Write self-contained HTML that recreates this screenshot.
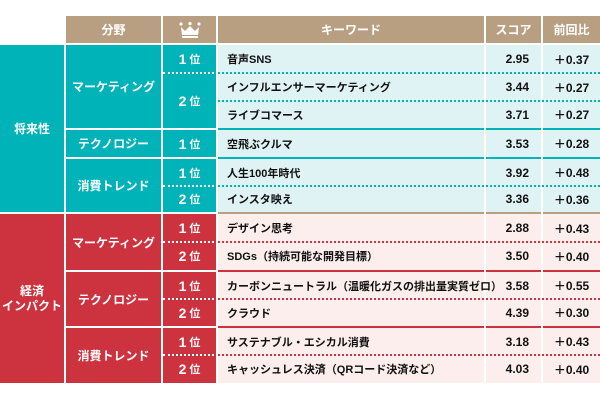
<!DOCTYPE html>
<html><head><meta charset="utf-8"><style>
*{margin:0;padding:0;box-sizing:border-box}
body{width:600px;height:400px;background:#fff;position:relative;overflow:hidden;font-family:"Liberation Sans","Noto Sans CJK JP",sans-serif;font-weight:bold}
.a{position:absolute;display:flex;align-items:center}
.c{justify-content:center;text-align:center}
.h{background:#b99f82;color:#fff;font-size:12px}
.t{background:#00b3b9;color:#fff;font-size:12px}
.r{background:#cd333e;color:#fff;font-size:12px}
.lt{background:#e0f3f4}
.lr{background:#fbeeed}
.k{font-size:11px;color:#111;padding-left:9px}
.s{font-size:12px;color:#111;justify-content:flex-end;padding-right:12px}
.p{font-size:12px;color:#111}
.d{position:absolute;height:0;border-top:2px dotted}
.rk{font-size:11px}.rk b{font-size:14px;margin-right:3px}
</style></head><body>
<div class="a c h" style="left:66px;top:16px;width:95px;height:27px">分野</div>
<div class="a c h" style="left:163px;top:16px;width:53px;height:27px"><svg width="22" height="16" viewBox="0 0 22 16"><circle cx="2" cy="2" r="1.6" fill="#fff"/><circle cx="11" cy="1.6" r="1.6" fill="#fff"/><circle cx="20" cy="2" r="1.6" fill="#fff"/><path d="M2 5 L6 9 L11 4 L16 9 L20 5 L19 13 L3 13Z" fill="#fff"/><rect x="3" y="14" width="16" height="2" fill="#fff"/></svg></div>
<div class="a c h" style="left:218px;top:16px;width:266px;height:27px">キーワード</div>
<div class="a c h" style="left:486px;top:16px;width:55px;height:27px">スコア</div>
<div class="a c h" style="left:543px;top:16px;width:57px;height:27px">前回比</div>

<div class="a c t" style="left:0;top:45px;width:64px;height:167px">将来性</div>
<div class="a c r" style="left:0;top:214px;width:64px;height:169px;line-height:1.25">経済<br>インパクト</div>

<div class="a c t" style="left:66px;top:45px;width:95px;height:83px">マーケティング</div>
<div class="a c t" style="left:66px;top:130px;width:95px;height:27px">テクノロジー</div>
<div class="a c t" style="left:66px;top:159px;width:95px;height:53px">消費トレンド</div>
<div class="a c r" style="left:66px;top:214px;width:95px;height:56px">マーケティング</div>
<div class="a c r" style="left:66px;top:272px;width:95px;height:54px">テクノロジー</div>
<div class="a c r" style="left:66px;top:328px;width:95px;height:55px">消費トレンド</div>

<div class="t" style="position:absolute;left:163px;top:45px;width:53px;height:83px"></div>
<div class="t" style="position:absolute;left:163px;top:130px;width:53px;height:27px"></div>
<div class="t" style="position:absolute;left:163px;top:159px;width:53px;height:53px"></div>
<div class="r" style="position:absolute;left:163px;top:214px;width:53px;height:56px"></div>
<div class="r" style="position:absolute;left:163px;top:272px;width:53px;height:54px"></div>
<div class="r" style="position:absolute;left:163px;top:328px;width:53px;height:55px"></div>
<div class="a c rk" style="left:163px;top:45px;width:53px;height:28px;color:#fff"><b>1</b>位</div>
<div class="a c rk" style="left:163px;top:73px;width:53px;height:55px;color:#fff"><b>2</b>位</div>
<div class="a c rk" style="left:163px;top:130px;width:53px;height:27px;color:#fff"><b>1</b>位</div>
<div class="a c rk" style="left:163px;top:159px;width:53px;height:27px;color:#fff"><b>1</b>位</div>
<div class="a c rk" style="left:163px;top:186px;width:53px;height:26px;color:#fff"><b>2</b>位</div>
<div class="a c rk" style="left:163px;top:214px;width:53px;height:28px;color:#fff"><b>1</b>位</div>
<div class="a c rk" style="left:163px;top:242px;width:53px;height:28px;color:#fff"><b>2</b>位</div>
<div class="a c rk" style="left:163px;top:272px;width:53px;height:27px;color:#fff"><b>1</b>位</div>
<div class="a c rk" style="left:163px;top:299px;width:53px;height:27px;color:#fff"><b>2</b>位</div>
<div class="a c rk" style="left:163px;top:328px;width:53px;height:27px;color:#fff"><b>1</b>位</div>
<div class="a c rk" style="left:163px;top:355px;width:53px;height:28px;color:#fff"><b>2</b>位</div>

<div class="lt" style="position:absolute;left:218px;top:45px;width:382px;height:167px"></div>
<div class="lr" style="position:absolute;left:218px;top:214px;width:382px;height:169px"></div>
<div style="position:absolute;left:218px;top:212px;width:382px;height:2px;background:#b99f82"></div>
<div style="position:absolute;left:218px;top:128px;width:382px;height:2px;background:#00b3b9"></div>
<div style="position:absolute;left:218px;top:157px;width:382px;height:2px;background:#00b3b9"></div>
<div style="position:absolute;left:218px;top:270px;width:382px;height:2px;background:#cd333e"></div>
<div style="position:absolute;left:218px;top:326px;width:382px;height:2px;background:#cd333e"></div>
<div style="position:absolute;left:484px;top:45px;width:2px;height:338px;background:#fff"></div>
<div style="position:absolute;left:541px;top:45px;width:2px;height:338px;background:#fff"></div>

<div class="d" style="left:163px;top:72px;width:55px;border-color:#fff"></div>
<div class="d" style="left:218px;top:72px;width:382px;border-color:#00b3b9"></div>
<div class="d" style="left:218px;top:100px;width:382px;border-color:#00b3b9"></div>
<div class="d" style="left:163px;top:185px;width:55px;border-color:#fff"></div>
<div class="d" style="left:218px;top:185px;width:382px;border-color:#00b3b9"></div>
<div class="d" style="left:163px;top:241px;width:55px;border-color:#fff"></div>
<div class="d" style="left:218px;top:241px;width:382px;border-color:#cd333e"></div>
<div class="d" style="left:163px;top:298px;width:55px;border-color:#fff"></div>
<div class="d" style="left:218px;top:298px;width:382px;border-color:#cd333e"></div>
<div class="d" style="left:163px;top:354px;width:55px;border-color:#fff"></div>
<div class="d" style="left:218px;top:354px;width:382px;border-color:#cd333e"></div>

<div class="a k" style="left:218px;top:45px;height:28px">音声SNS</div>
<div class="a k" style="left:218px;top:73px;height:28px">インフルエンサーマーケティング</div>
<div class="a k" style="left:218px;top:101px;height:27px">ライブコマース</div>
<div class="a k" style="left:218px;top:130px;height:27px">空飛ぶクルマ</div>
<div class="a k" style="left:218px;top:159px;height:27px">人生100年時代</div>
<div class="a k" style="left:218px;top:186px;height:26px">インスタ映え</div>
<div class="a k" style="left:218px;top:214px;height:28px">デザイン思考</div>
<div class="a k" style="left:218px;top:242px;height:28px">SDGs（持続可能な開発目標）</div>
<div class="a k" style="left:218px;top:272px;height:27px">カーボンニュートラル（温暖化ガスの排出量実質ゼロ）</div>
<div class="a k" style="left:218px;top:299px;height:27px">クラウド</div>
<div class="a k" style="left:218px;top:328px;height:27px">サステナブル・エシカル消費</div>
<div class="a k" style="left:218px;top:355px;height:28px">キャッシュレス決済（QRコード決済など）</div>

<div class="a s" style="left:486px;top:45px;width:55px;height:28px">2.95</div>
<div class="a s" style="left:486px;top:73px;width:55px;height:28px">3.44</div>
<div class="a s" style="left:486px;top:101px;width:55px;height:27px">3.71</div>
<div class="a s" style="left:486px;top:130px;width:55px;height:27px">3.53</div>
<div class="a s" style="left:486px;top:159px;width:55px;height:27px">3.92</div>
<div class="a s" style="left:486px;top:186px;width:55px;height:26px">3.36</div>
<div class="a s" style="left:486px;top:214px;width:55px;height:28px">2.88</div>
<div class="a s" style="left:486px;top:242px;width:55px;height:28px">3.50</div>
<div class="a s" style="left:486px;top:272px;width:55px;height:27px">3.58</div>
<div class="a s" style="left:486px;top:299px;width:55px;height:27px">4.39</div>
<div class="a s" style="left:486px;top:328px;width:55px;height:27px">3.18</div>
<div class="a s" style="left:486px;top:355px;width:55px;height:28px">4.03</div>

<div class="a c p" style="left:543px;top:45px;width:57px;height:28px">＋0.37</div>
<div class="a c p" style="left:543px;top:73px;width:57px;height:28px">＋0.27</div>
<div class="a c p" style="left:543px;top:101px;width:57px;height:27px">＋0.27</div>
<div class="a c p" style="left:543px;top:130px;width:57px;height:27px">＋0.28</div>
<div class="a c p" style="left:543px;top:159px;width:57px;height:27px">＋0.48</div>
<div class="a c p" style="left:543px;top:186px;width:57px;height:26px">＋0.36</div>
<div class="a c p" style="left:543px;top:214px;width:57px;height:28px">＋0.43</div>
<div class="a c p" style="left:543px;top:242px;width:57px;height:28px">＋0.40</div>
<div class="a c p" style="left:543px;top:272px;width:57px;height:27px">＋0.55</div>
<div class="a c p" style="left:543px;top:299px;width:57px;height:27px">＋0.30</div>
<div class="a c p" style="left:543px;top:328px;width:57px;height:27px">＋0.43</div>
<div class="a c p" style="left:543px;top:355px;width:57px;height:28px">＋0.40</div>
</body></html>
